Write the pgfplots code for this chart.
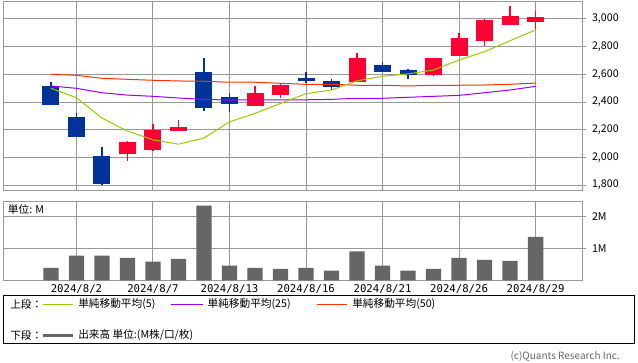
\documentclass[border=0pt]{standalone}
\usepackage{fontspec}
\usepackage{pgfplots}
\usepackage{pgfplotstable}
\pgfplotsset{compat=1.18}
\setmainfont{Noto Sans CJK JP}
\newfontfamily\monofont{DejaVu Sans Mono}
\definecolor{upred}{HTML}{FF0033}
\definecolor{downblue}{HTML}{003399}
\definecolor{mafive}{HTML}{99CC00}
\definecolor{matwentyfive}{HTML}{9900FF}
\definecolor{mafifty}{HTML}{FF3300}
\definecolor{gridgray}{HTML}{999999}
\definecolor{volgray}{HTML}{666666}

\pgfplotstableread{
i o h l c
3 2024 2118 1976 2111
4 2053 2241 2048 2198
5 2193 2270 2193 2219
8 2371 2516 2371 2465
9 2451 2530 2429 2523
12 2545 2756 2545 2718
15 2597 2718 2588 2718
16 2733 2899 2733 2863
17 2843 3000 2805 2993
18 2959 3094 2959 3022
19 2980 3058 2928 3014
}\upcandles

\pgfplotstableread{
i o h l c
0 2516 2545 2381 2381
1 2292 2320 2149 2149
2 2010 2075 1798 1809
6 2617 2718 2337 2359
7 2436 2465 2330 2388
10 2573 2617 2540 2554
11 2552 2566 2487 2508
13 2667 2689 2619 2619
14 2631 2639 2566 2597
}\downcandles

\pgfplotstableread{
i ma5 ma25 ma50
0 2499 2516 2600
1 2431 2499 2593
2 2284 2467 2571
3 2190 2450 2564
4 2127 2441 2557
5 2095 2429 2552
6 2140 2419 2550
7 2256 2414 2543
8 2318 2416 2543
9 2390 2416 2535
10 2460 2416 2528
11 2487 2419 2528
12 2553 2427 2521
13 2586 2427 2521
14 2603 2434 2516
15 2631 2441 2521
16 2704 2448 2521
17 2764 2467 2523
18 2843 2487 2528
19 2921 2513 2537
}\madata

\pgfplotstableread{
i v
0 0.39
1 0.77
2 0.77
3 0.70
4 0.58
5 0.67
6 2.33
7 0.46
8 0.39
9 0.36
10 0.39
11 0.30
12 0.90
13 0.46
14 0.30
15 0.36
16 0.70
17 0.64
18 0.61
19 1.36
}\voldata

\begin{document}
\begin{tikzpicture}
\path[use as bounding box] (0pt,0pt) rectangle (478.5pt,271.5pt);
% upper panel
\begin{axis}[
  at={(2.25pt,129pt)}, anchor=south west,
  width=434.25pt, height=141.75pt, scale only axis,
  xmin=-1.88, xmax=20.82, ymin=1764, ymax=3130,
  axis line style={draw=gridgray, line width=0.75pt},
  xtick={1,4,7,10,13,16,19}, xticklabels={},
  ytick={1800,2000,2200,2400,2600,2800,3000},
  grid=major, grid style={draw=gridgray, line width=0.75pt},
  ytick pos=right, yticklabel pos=right,
  tick align=outside, major tick length=3pt,
  xtick style={draw=none},
  ytick style={draw=gridgray, line width=0.75pt},
  yticklabel style={font=\fontsize{8}{10}\selectfont, anchor=west, xshift=1pt},
  /pgf/number format/1000 sep={,},
  /pgf/number format/assume math mode=true,
]
\addplot[forget plot, draw=none, mark=none, error bars/.cd, y dir=plus, y explicit, error mark=none,
  error bar style={draw=upred, line width=1pt}]
  table[x=i, y=l, y error expr=\thisrow{h}-\thisrow{l}] {\upcandles};
\addplot[forget plot, draw=none, mark=none, error bars/.cd, y dir=plus, y explicit, error mark=none,
  error bar style={draw=downblue, line width=1pt}]
  table[x=i, y=l, y error expr=\thisrow{h}-\thisrow{l}] {\downcandles};
\addplot[forget plot, draw=none, mark=none, error bars/.cd, y dir=plus, y explicit, error mark=none,
  error bar style={draw=upred, line width=12.75pt}]
  table[x=i, y=o, y error expr=\thisrow{c}-\thisrow{o}] {\upcandles};
\addplot[forget plot, draw=none, mark=none, error bars/.cd, y dir=plus, y explicit, error mark=none,
  error bar style={draw=downblue, line width=12.75pt}]
  table[x=i, y=c, y error expr=\thisrow{o}-\thisrow{c}] {\downcandles};
\addplot[mafifty, line width=0.75pt, mark=none] table[x=i, y=ma50] {\madata};
\addplot[matwentyfive, line width=0.75pt, mark=none] table[x=i, y=ma25] {\madata};
\addplot[mafive, line width=0.75pt, mark=none] table[x=i, y=ma5] {\madata};
\end{axis}
% volume panel
\begin{axis}[
  at={(2.25pt,61.3pt)}, anchor=south west,
  width=434.25pt, height=59.25pt, scale only axis,
  xmin=-1.88, xmax=20.82, ymin=0, ymax=2.47,
  axis line style={draw=gridgray, line width=0.75pt},
  xtick={1,4,7,10,13,16,19},
  xticklabels={2024/8/2,2024/8/7,2024/8/13,2024/8/16,2024/8/21,2024/8/26,2024/8/29},
  ytick={1,2}, yticklabels={1M,2M},
  grid=major, grid style={draw=gridgray, line width=0.75pt},
  ytick pos=right, yticklabel pos=right,
  tick align=outside, major tick length=3pt,
  xtick style={draw=none},
  ytick style={draw=gridgray, line width=0.75pt},
  yticklabel style={font=\fontsize{8}{10}\selectfont, anchor=west, xshift=1pt},
  xticklabel style={font=\monofont\fontsize{8}{9}\selectfont, yshift=3.5pt},
]
\addplot[ybar, bar width=11.5pt, bar shift=0pt, fill=volgray, draw=none] table[x=i, y=v] {\voldata};
\node[anchor=north west, font=\fontsize{8}{10}\selectfont, inner sep=0pt] at (rel axis cs:0,1) [xshift=3.5pt, yshift=-2.5pt] {単位: M};
\end{axis}
% legend box
\draw[black, line width=0.75pt] (2.25pt,14.25pt) rectangle (475.5pt,50.25pt);
\begin{scope}[font=\fontsize{8}{10}\selectfont]
\node[anchor=west, inner sep=0pt] at (7.5pt,43.5pt) {上段：};
\draw[mafive, line width=0.75pt] (32.25pt,43.5pt) -- (54.75pt,43.5pt);
\node[anchor=west, inner sep=0pt] at (58.5pt,43.5pt) {単純移動平均(5)};
\draw[matwentyfive, line width=0.75pt] (128pt,43.5pt) -- (152pt,43.5pt);
\node[anchor=west, inner sep=0pt] at (155.5pt,43.5pt) {単純移動平均(25)};
\draw[mafifty, line width=0.75pt] (237.5pt,43.5pt) -- (260.5pt,43.5pt);
\node[anchor=west, inner sep=0pt] at (264pt,43.5pt) {単純移動平均(50)};
\node[anchor=west, inner sep=0pt] at (7.5pt,20.25pt) {下段：};
\draw[volgray, line width=2.25pt] (32.25pt,20.25pt) -- (54.75pt,20.25pt);
\node[anchor=west, inner sep=0pt] at (58.5pt,20.25pt) {出来高 単位:(M株/口/枚)};
\end{scope}
\node[anchor=east, inner sep=0pt, text=volgray, font=\fontsize{7.5}{9}\selectfont] at (465pt,4.5pt) {(c)Quants Research Inc.};
\end{tikzpicture}
\end{document}
